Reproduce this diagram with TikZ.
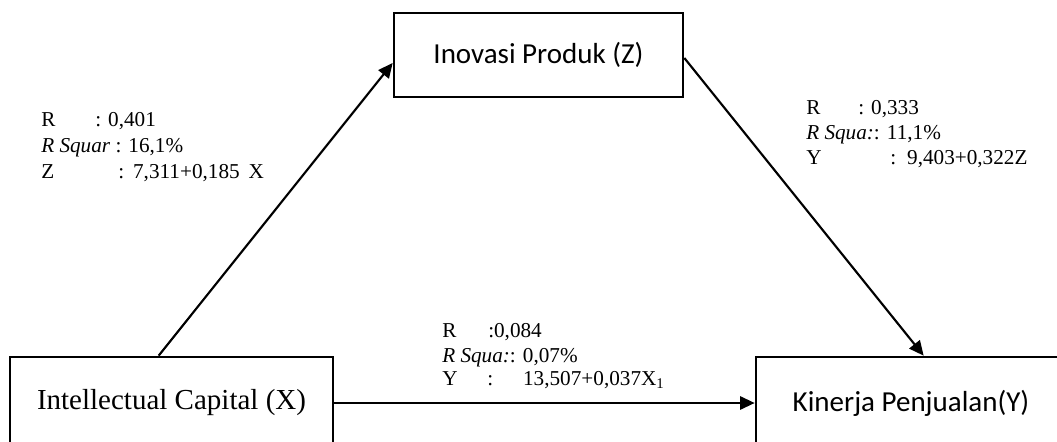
\documentclass[tikz,border=0pt]{standalone}
\usepackage{fontspec}
\setmainfont{Liberation Serif}
\newfontfamily\carlitofont{Carlito}
\usetikzlibrary{arrows.meta}
\newdimen\px \px=0.75pt
\begin{document}
\begin{tikzpicture}[x=0.75pt,y=-0.75pt,
  box/.style={draw,line width=2pt,inner sep=0pt,font=\fontsize{21.75pt}{26pt}\selectfont},
  arr/.style={line width=1.6pt,-{Triangle[length=11pt,width=10pt]}},
  lab/.style={anchor=base west,inner sep=0pt,font=\fontsize{15.9pt}{18.75pt}\selectfont}]
\useasboundingbox (0,0) rectangle (1057,442);
\clip (0,0) rectangle (1057,442);
% boxes
\node[box,minimum width=216.75pt,minimum height=63pt,font=\carlitofont\fontsize{21.75pt}{26pt}\selectfont] (Z) at (538.5,55) {Inovasi Produk (Z)};
\node[box,minimum width=242.25pt,minimum height=69pt] (X) at (171.5,403) {Intellectual Capital (X)};
\node[box,minimum width=232.5pt,minimum height=69pt,font=\carlitofont\fontsize{21.75pt}{26pt}\selectfont] (Y) at (911,403) {Kinerja Penjualan(Y)};
% connectors
\draw[arr] ([xshift=150\px]X.north west) -- ([yshift=-8\px]Z.west);
\draw[arr] ([yshift=-3\px]Z.east) -- ([xshift=169\px]Y.north west);
\draw[arr] (X.east) -- (Y.west);
% left label
\node[lab] (l1) at (41,127) {\makebox[54\px][l]{R}: 0,401};
\node[lab] (l2) at (41,153) {\textit{R Squar} : 16,1\%};
\node[lab] (l3) at (41,179) {\makebox[77\px][l]{Z}:\hspace{9\px}7,311+0,185\hspace{9\px}X};
% right label
\node[lab] (r1) at (806,115) {\makebox[52\px][l]{R}: 0,333};
\node[lab] (r2) at (806,140) {\textit{R Squa:}: 11,1\%};
\node[lab] (r3) at (806,165) {\makebox[84\px][l]{Y}:\hspace{11\px}9,403+0,322Z};
% bottom label
\node[lab] (b1) at (442,337) {\makebox[46\px][l]{R}:0,084};
\node[lab] (b2) at (442,362) {\textit{R Squa:}: 0,07\%};
\node[lab] (b3) at (442,385) {\makebox[45\px][l]{Y}:\hspace{30\px}13,507+0,037X\textsubscript{1}};
\end{tikzpicture}
\end{document}
